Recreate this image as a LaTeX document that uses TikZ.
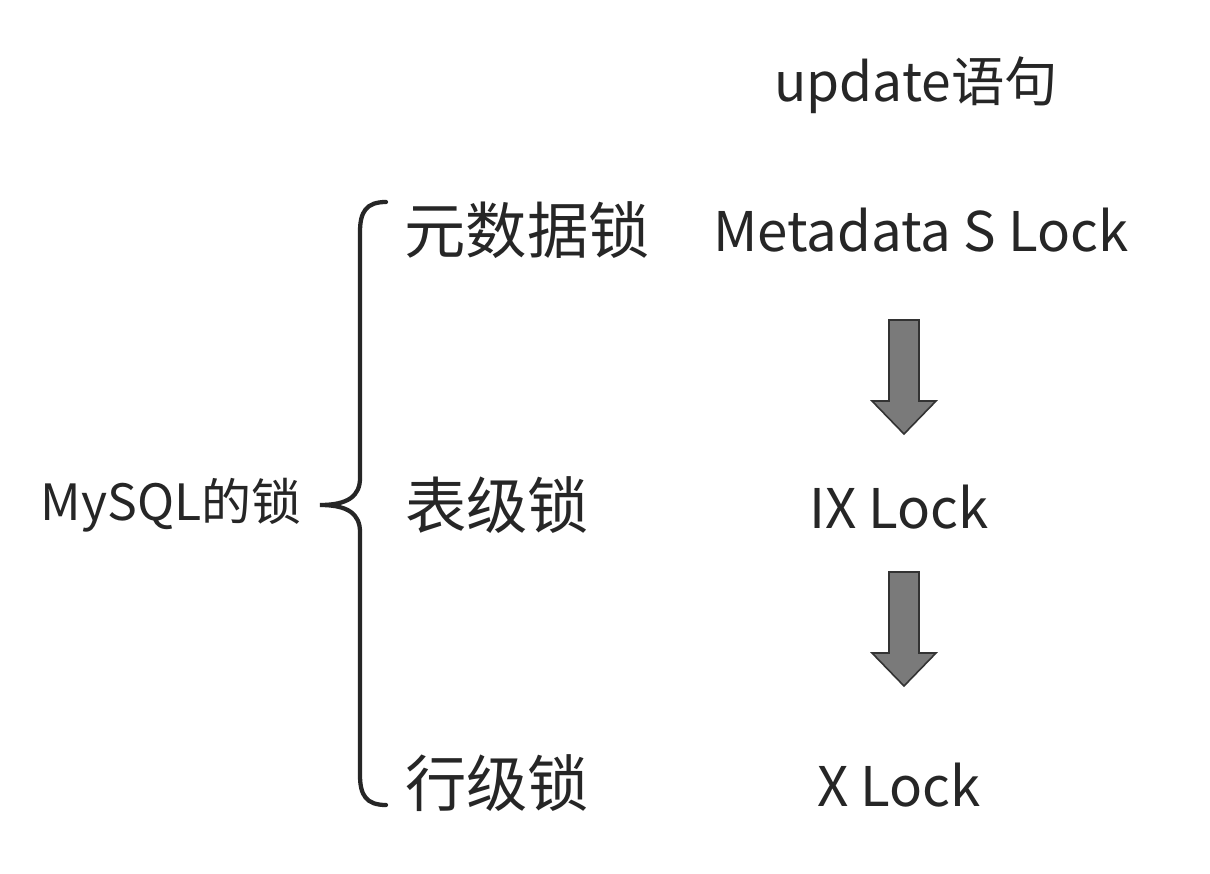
\documentclass[tikz,border=0pt]{standalone}
\usepackage{fontspec}
\setmainfont{Noto Sans CJK SC}
\begin{document}
\begin{tikzpicture}[x=0.75pt,y=-0.75pt,
  txt/.style={inner sep=0pt, text=black!85, anchor=center},
  big/.style={txt, font=\fontsize{41}{48}\selectfont},
  cjk/.style={txt, font=\fontsize{46}{52}\selectfont},
  small/.style={txt, font=\fontsize{37.5}{42}\selectfont},
  blockarrow/.style={fill=black!52, draw=black!80, line width=1.2pt, line join=miter},
  bracestyle/.style={draw=black!85, line width=3.2pt, line cap=round}]
\useasboundingbox (0,0) rectangle (1210,874);
\fill[white] (0,0) rectangle (1210,874);

\node[big, font=\fontsize{40}{46}\selectfont] (upd) at (916,85) {update语句};
\node[big] (meta) at (921,230) {Metadata S Lock};
\node[big] (ix) at (899,507) {IX Lock};
\node[big] (xl) at (899,785) {X Lock};

\node[cjk] (ys) at (527,230) {元数据锁};
\node[cjk] (bj) at (497,505) {表级锁};
\node[cjk] (hj) at (497,783) {行级锁};

\node[small] (mysql) at (171,505) {MySQL的锁};

% brace
\coordinate (btop) at (386,202);
\coordinate (bbot) at (386,805);
\coordinate (btip) at (320,505);
\draw[bracestyle] (btop) .. controls (366,202) and (360,212) .. (360,232)
  -- (360,478) .. controls (360,496) and (348,505) .. (btip)
  .. controls (348,505) and (360,514) .. (360,532)
  -- (360,775) .. controls (360,795) and (366,805) .. (bbot);

% block arrows
\draw[blockarrow] (889,320) -- (919,320) -- (919,401) -- (936,401) -- (904,434)
  -- (872,401) -- (889,401) -- cycle;
\draw[blockarrow] (889,572) -- (919,572) -- (919,653) -- (936,653) -- (904,686)
  -- (872,653) -- (889,653) -- cycle;
\end{tikzpicture}
\end{document}
